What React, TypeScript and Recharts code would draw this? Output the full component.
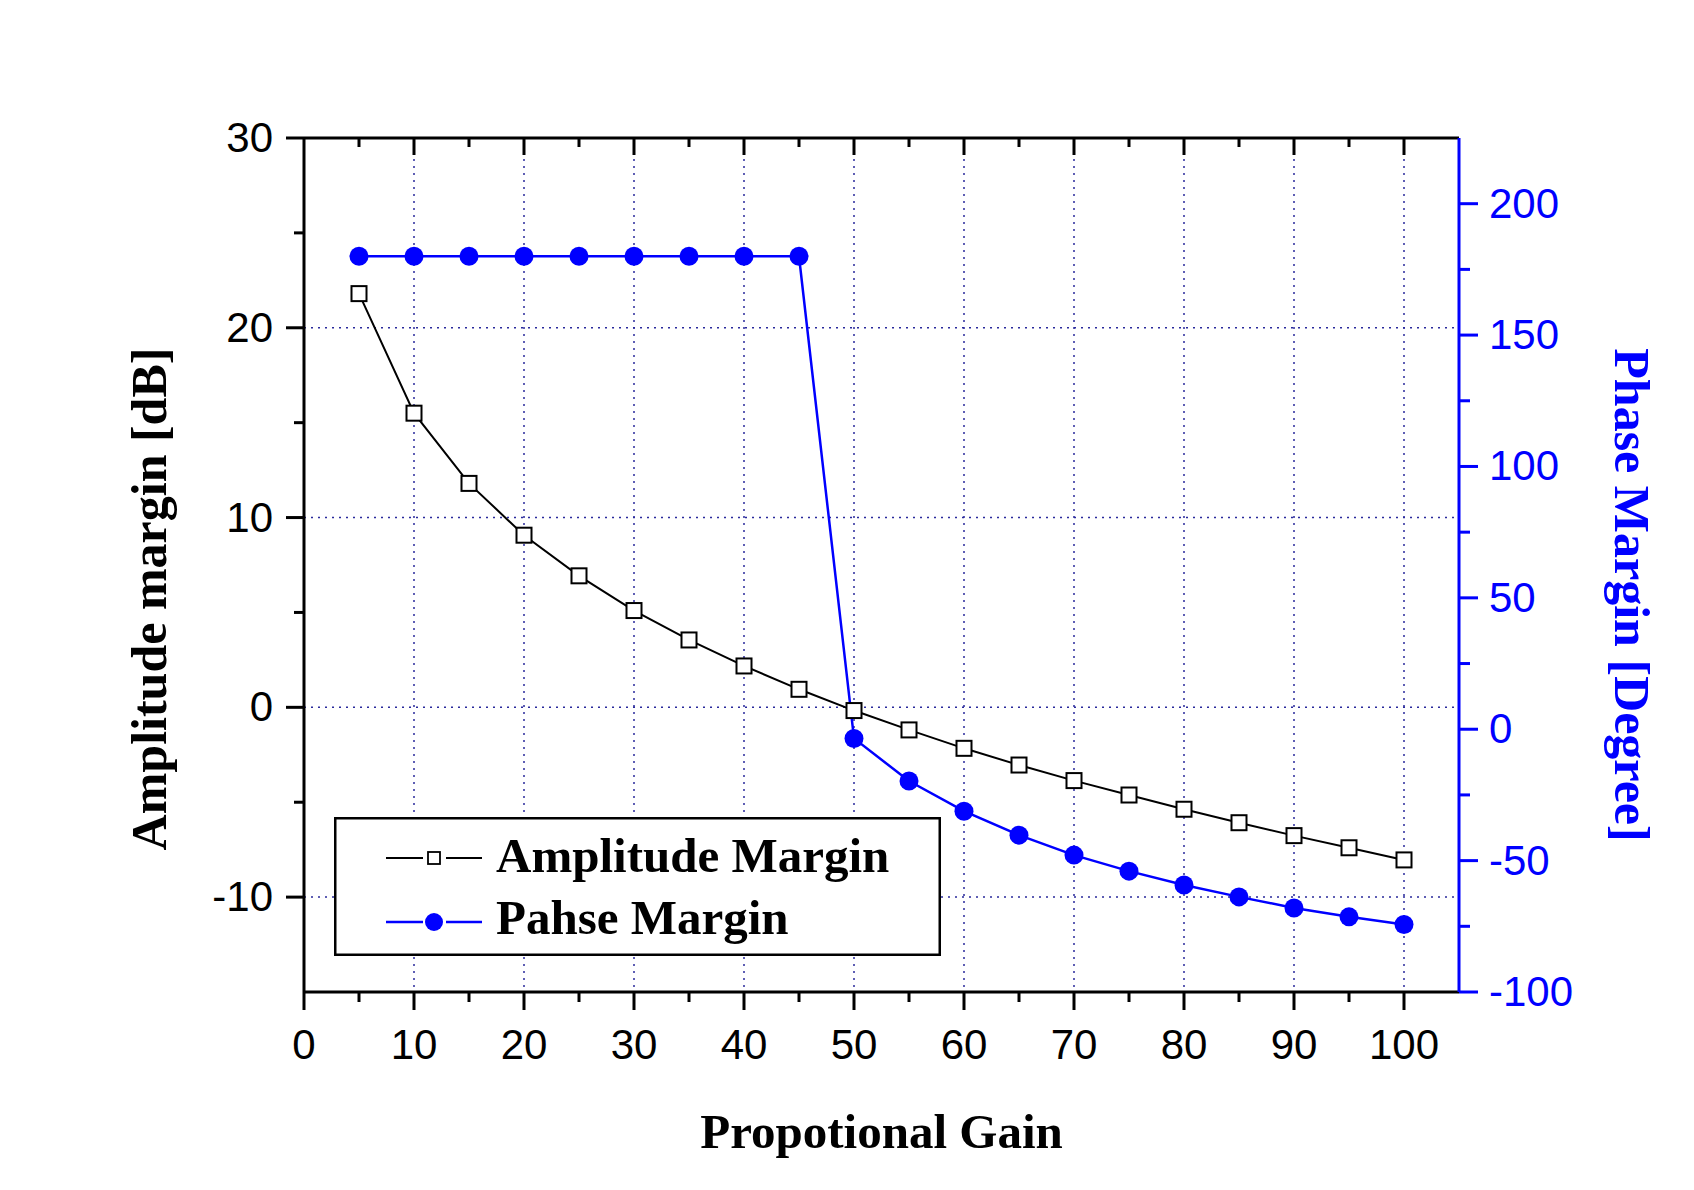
import {
  CartesianGrid,
  ComposedChart,
  Label,
  Legend,
  Line,
  XAxis,
  YAxis
} from 'recharts'

const gain = [5, 10, 15, 20, 25, 30, 35, 40, 45, 50, 55, 60, 65, 70, 75, 80, 85, 90, 95, 100]
const amplitudeMargin = [
  21.8, 15.5, 11.8, 9.07, 6.93, 5.1, 3.55, 2.18, 0.95, -0.17, -1.19, -2.16, -3.04, -3.86, -4.62,
  -5.37, -6.08, -6.76, -7.4, -8.04
]
const phaseMargin = [
  180, 180, 180, 180, 180, 180, 180, 180, 180, -3.5, -19.7, -31.2, -40.3, -47.9, -54, -59.3, -63.8,
  -68, -71.4, -74.3
]

const xTicks = [0, 5, 10, 15, 20, 25, 30, 35, 40, 45, 50, 55, 60, 65, 70, 75, 80, 85, 90, 95, 100]
const leftTicks = [30, 25, 20, 15, 10, 5, 0, -5, -10]
const rightTicks = [200, 175, 150, 125, 100, 75, 50, 25, 0, -25, -50, -75, -100]
const gridX = [10, 20, 30, 40, 50, 60, 70, 80, 90, 100]
const gridY = [20, 10, 0, -10]

const data = gain.map((g, i) => ({ gain: g, amp: amplitudeMargin[i], phase: phaseMargin[i] }))

const W = 1694
const H = 1190
const PLOT = { left: 304, top: 138, right: 1459, bottom: 992 }
const LEFT_W = 120
const RIGHT_W = 100
const BOTTOM_H = 60
const TOP_H = 1

const BLUE = '#0000ff'
const SANS = '"Liberation Sans", Arial, sans-serif'
const SERIF = '"Liberation Serif", "Times New Roman", serif'

const BottomTick = (props: any) => {
  const { x, y, payload } = props
  const major = payload.value % 10 === 0
  return (
    <g>
      <line x1={x} y1={y} x2={x} y2={y + (major ? 18 : 10)} stroke="#000" strokeWidth={3} />
      {major && (
        <text x={x} y={y + 67} textAnchor="middle" fontSize={42} fontFamily={SANS} fill="#000">
          {payload.value}
        </text>
      )}
    </g>
  )
}

// inward ticks along the top frame
const TopTick = (props: any) => {
  const { x, payload } = props
  const major = payload.value % 10 === 0
  if (payload.value === 0) return <g />
  return (
    <line
      x1={x}
      y1={PLOT.top}
      x2={x}
      y2={PLOT.top + (major ? 17 : 9)}
      stroke="#000"
      strokeWidth={3}
    />
  )
}

const LeftTick = (props: any) => {
  const { x, y, payload } = props
  const major = payload.value % 10 === 0
  return (
    <g>
      <line x1={x} y1={y} x2={x - (major ? 18 : 10)} y2={y} stroke="#000" strokeWidth={3} />
      {major && (
        <text x={x - 31} y={y + 14} textAnchor="end" fontSize={42} fontFamily={SANS} fill="#000">
          {payload.value}
        </text>
      )}
    </g>
  )
}

const RightTick = (props: any) => {
  const { x, y, payload } = props
  const major = payload.value % 50 === 0
  return (
    <g>
      <line x1={x} y1={y} x2={x + (major ? 19 : 11)} y2={y} stroke={BLUE} strokeWidth={3} />
      {major && (
        <text x={x + 30} y={y + 14} textAnchor="start" fontSize={42} fontFamily={SANS} fill={BLUE}>
          {payload.value}
        </text>
      )}
    </g>
  )
}

const SquareDot = (props: any) => {
  const { cx, cy, index } = props
  if (cx == null || cy == null) return <g key={index} />
  return (
    <rect
      key={index}
      x={cx - 7.5}
      y={cy - 7.5}
      width={15}
      height={15}
      fill="#fff"
      stroke="#000"
      strokeWidth={2}
    />
  )
}

const CircleDot = (props: any) => {
  const { cx, cy, index } = props
  if (cx == null || cy == null) return <g key={index} />
  return <circle key={index} cx={cx} cy={cy} r={9.5} fill={BLUE} stroke="none" />
}

const LegendBox = ({ payload }: any) => {
  const items = payload || []
  return (
    <svg width={607} height={139} style={{ display: 'block' }}>
      <rect x={1.25} y={1.25} width={604.5} height={136.5} fill="#fff" stroke="#000" strokeWidth={2.5} />
      {items.map((entry: any, i: number) => {
        const ly = 41 + 64 * i
        const isAmp = entry.dataKey === 'amp'
        const color = isAmp ? '#000' : BLUE
        return (
          <g key={entry.value}>
            <line x1={52} y1={ly} x2={89} y2={ly} stroke={color} strokeWidth={isAmp ? 2 : 2.5} />
            <line x1={112} y1={ly} x2={148} y2={ly} stroke={color} strokeWidth={isAmp ? 2 : 2.5} />
            {isAmp ? (
              <rect x={94} y={ly - 6} width={12} height={12} fill="#fff" stroke="#000" strokeWidth={1.8} />
            ) : (
              <circle cx={100} cy={ly} r={9} fill={BLUE} />
            )}
            <text
              x={162}
              y={55 + 62 * i}
              fontSize={49}
              fontWeight="bold"
              fontFamily={SERIF}
              fill="#000"
            >
              {entry.value}
            </text>
          </g>
        )
      })}
    </svg>
  )
}

export default function App() {
  return (
    <div style={{ position: 'absolute', left: 0, top: 0, width: W, height: H, background: '#fff' }}>
      <ComposedChart
        width={W}
        height={H}
        data={data}
        margin={{
          top: PLOT.top - TOP_H,
          left: PLOT.left - LEFT_W,
          right: W - PLOT.right - RIGHT_W,
          bottom: H - PLOT.bottom - BOTTOM_H
        }}>
        <CartesianGrid
          xAxisId="bottom"
          yAxisId="left"
          verticalValues={gridX}
          horizontalValues={gridY}
          stroke="#2a2a9c"
          strokeWidth={1.5}
          strokeDasharray="2 5"
        />
        <XAxis
          xAxisId="bottom"
          dataKey="gain"
          type="number"
          domain={[0, 105]}
          ticks={xTicks}
          interval={0}
          allowDataOverflow
          height={BOTTOM_H}
          tickSize={0}
          tickMargin={0}
          tickLine={false}
          tick={<BottomTick />}
          axisLine={{ stroke: '#000', strokeWidth: 3 }}>
          <Label
            content={() => (
              <text
                x={(PLOT.left + PLOT.right) / 2}
                y={1148}
                textAnchor="middle"
                fontSize={49}
                fontWeight="bold"
                fontFamily={SERIF}
                fill="#000">
                Propotional Gain
              </text>
            )}
          />
        </XAxis>
        <XAxis
          xAxisId="top"
          orientation="top"
          dataKey="gain"
          type="number"
          domain={[0, 105]}
          ticks={xTicks}
          interval={0}
          allowDataOverflow
          height={TOP_H}
          tickSize={0}
          tickMargin={0}
          tickLine={false}
          tick={<TopTick />}
          axisLine={{ stroke: '#000', strokeWidth: 3 }}
        />
        <YAxis
          yAxisId="left"
          type="number"
          domain={[-15, 30]}
          ticks={leftTicks}
          interval={0}
          allowDataOverflow
          width={LEFT_W}
          tickSize={0}
          tickMargin={0}
          tickLine={false}
          tick={<LeftTick />}
          axisLine={{ stroke: '#000', strokeWidth: 3 }}>
          <Label
            content={() => (
              <text
                x={166}
                y={599}
                transform="rotate(-90 166 599)"
                textAnchor="middle"
                fontSize={50}
                fontWeight="bold"
                fontFamily={SERIF}
                fill="#000">
                Amplitude margin [dB]
              </text>
            )}
          />
        </YAxis>
        <YAxis
          yAxisId="right"
          orientation="right"
          type="number"
          domain={[-100, 225]}
          ticks={rightTicks}
          interval={0}
          allowDataOverflow
          width={RIGHT_W}
          tickSize={0}
          tickMargin={0}
          tickLine={false}
          tick={<RightTick />}
          axisLine={{ stroke: BLUE, strokeWidth: 3 }}>
          <Label
            content={() => (
              <text
                x={1615}
                y={595}
                transform="rotate(90 1615 595)"
                textAnchor="middle"
                fontSize={50}
                fontWeight="bold"
                fontFamily={SERIF}
                fill={BLUE}>
                Phase Margin [Degree]
              </text>
            )}
          />
        </YAxis>
        <Legend
          layout="horizontal"
          verticalAlign="middle"
          align="center"
          width={607}
          height={139}
          wrapperStyle={{ left: 334, top: 817, width: 607, height: 139 }}
          content={<LegendBox />}
        />
        <Line
          xAxisId="bottom"
          yAxisId="left"
          type="linear"
          dataKey="amp"
          name="Amplitude Margin"
          stroke="#000"
          strokeWidth={2}
          dot={<SquareDot />}
          activeDot={false}
          isAnimationActive={false}
        />
        <Line
          xAxisId="bottom"
          yAxisId="right"
          type="linear"
          dataKey="phase"
          name="Pahse Margin"
          stroke={BLUE}
          strokeWidth={2.5}
          dot={<CircleDot />}
          activeDot={false}
          isAnimationActive={false}
        />
      </ComposedChart>
    </div>
  )
}
